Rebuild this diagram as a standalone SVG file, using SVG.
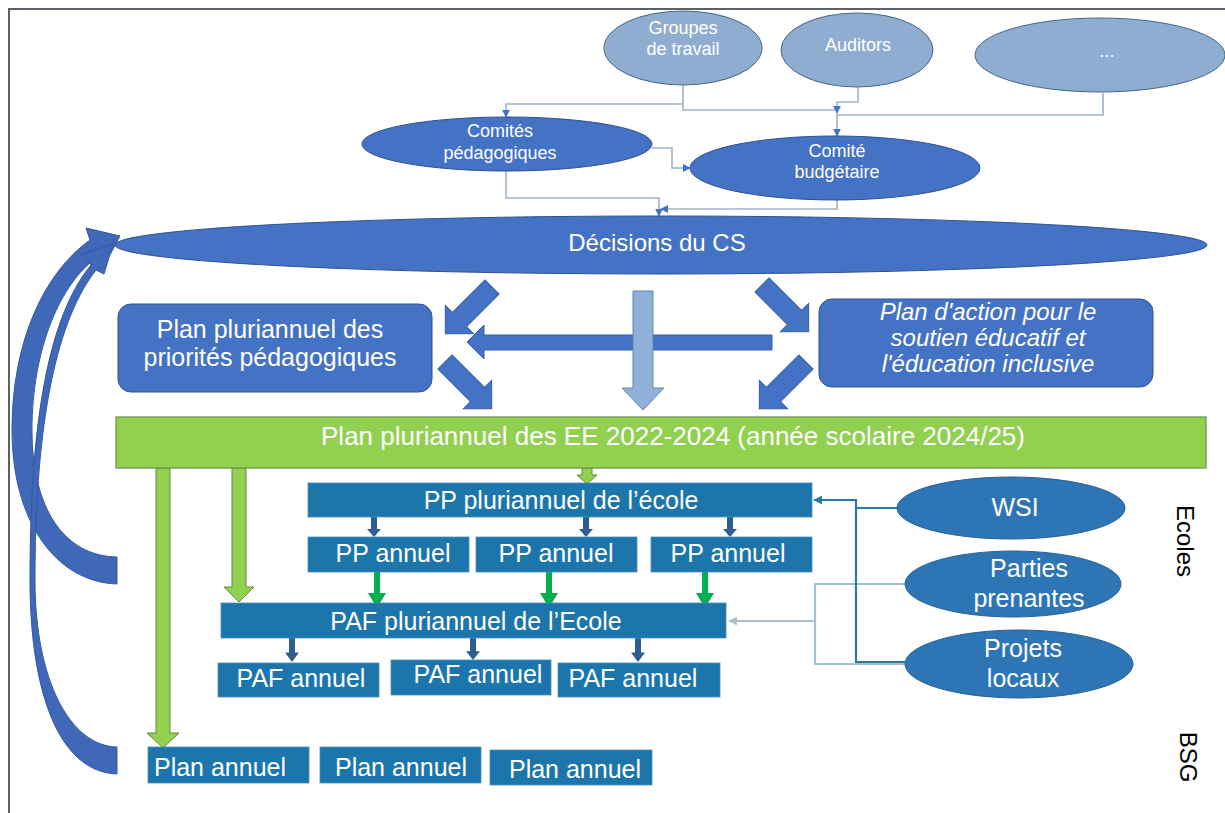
<svg xmlns="http://www.w3.org/2000/svg" width="1225" height="813" viewBox="0 0 1225 813">
<defs>
<style>
text{font-family:"Liberation Sans",Arial,sans-serif;fill:#fff;text-anchor:middle}
.t18{font-size:18px}
.t25{font-size:25px}
.lt{fill:#8fadd0;stroke:#44658f;stroke-width:1}
.dk{fill:#4472c4;stroke:#2f528f;stroke-width:1}
.teal{fill:#1c76ab;stroke:#4a90bd;stroke-width:0.8}
.rb{fill:#2e75b6;stroke:#2a5f94;stroke-width:1}
.ln{fill:none;stroke:#9fb3cb;stroke-width:1.6}
.lnt{fill:none;stroke:#2b7b9e;stroke-width:2.2}
.lng{fill:none;stroke:#a9bfd0;stroke-width:2.2}
.blk{fill:#4472c4;stroke:#3760a8;stroke-width:1}
.arc{fill:#4068b8;stroke:#34599f;stroke-width:1}
.grn{fill:#92d050;stroke:#65883a;stroke-width:1}
.sm{fill:#2d5d91}
.ga{fill:#00b050}
.lbl{fill:#000;font-size:24px}
</style>
<marker id="ah" viewBox="0 0 10 10" refX="9" refY="5" markerWidth="5" markerHeight="5" orient="auto"><path d="M0,0 L10,5 L0,10 Z" fill="#4472c4"/></marker>
<marker id="aht" viewBox="0 0 10 10" refX="9" refY="5" markerWidth="4" markerHeight="4" orient="auto"><path d="M0,0 L10,5 L0,10 Z" fill="#2b7b9e"/></marker>
<marker id="ahg" viewBox="0 0 10 10" refX="9" refY="5" markerWidth="4" markerHeight="4" orient="auto"><path d="M0,0 L10,5 L0,10 Z" fill="#a9bfd0"/></marker>
<path id="blkA" d="M0,-10 H46 V-20 L66,0 L46,20 V10 H0 Z"/>
<path id="sa" d="M-3,0 H3 V12 H7 L0,20 L-7,12 H-3 Z"/>
<path id="gaA" d="M-3,0 H3 V21 H9 L0,36 L-9,21 H-3 Z"/>
</defs>
<rect width="1225" height="813" fill="#fff"/>
<path d="M9,813 V9 H1225" fill="none" stroke="#5a6068" stroke-width="2"/>

<g id="connectors">
  <path class="ln" d="M683,85 V110 H837"/>
  <path class="ln" d="M683,104 H506 V117" marker-end="url(#ah)"/>
  <path class="ln" d="M858,87 V102 H837"/>
  <path class="ln" d="M1103,93 V115 H837"/>
  <path class="ln" d="M837,102 V113" marker-end="url(#ah)"/>
  <path class="ln" d="M837,113 V136" marker-end="url(#ah)"/>
  <path class="ln" d="M652,148 H672 V168 H690" marker-end="url(#ah)"/>
  <path class="ln" d="M506,170 V198 H659 V216" marker-end="url(#ah)"/>
  <path class="ln" d="M837,199 V209 H661" marker-end="url(#ah)"/>

  <path class="arc" d="M117,584 C55,582 12,520 12,430 C12,340 45,272 90,240 L86,228 L120,236 L104,266 L99,256 C60,282 32,350 32,430 C32,510 65,556 117,557 Z"/>
  <path class="arc" d="M117,774 C58,772 30,690 30,580 C30,440 44,322 91,265 L82,254 L113,244 L104,274 L96,270 C52,326 35,440 35,580 C35,680 70,746 117,747 Z"/>

  <use href="#blkA" class="blk" transform="translate(492,287) rotate(135)"/>
  <use href="#blkA" class="blk" transform="translate(445,362) rotate(45)"/>
  <use href="#blkA" class="blk" transform="translate(762,285) rotate(45)"/>
  <use href="#blkA" class="blk" transform="translate(806,362) rotate(135)"/>
  <path class="blk" d="M772,335 V350 H484 V359 L467,342 L484,325 V335 Z"/>
  <path fill="#8fb0d8" stroke="#5f86b5" stroke-width="1" d="M633,291 H653 V388 H664 L643,410 L622,388 H633 Z"/>

  <path class="grn" d="M156,468 H170 V733 H179 L163,748 L147,733 H156 Z"/>
  <path class="grn" d="M232,468 H246 V587 H254 L239,602 L224,587 H232 Z"/>
  <path class="grn" d="M582,468 H592 V475 H597 L587,484 L577,475 H582 Z"/>

  <use href="#sa" class="sm" transform="translate(374,517)"/>
  <use href="#sa" class="sm" transform="translate(586,517)"/>
  <use href="#sa" class="sm" transform="translate(730,517)"/>
  <use href="#gaA" class="ga" transform="translate(377,572)"/>
  <use href="#gaA" class="ga" transform="translate(549,572)"/>
  <use href="#gaA" class="ga" transform="translate(705,572)"/>
  <use href="#sa" class="sm" transform="translate(292,638) scale(1,1.2)"/>
  <use href="#sa" class="sm" transform="translate(473,638) scale(1,1.1)"/>
  <use href="#sa" class="sm" transform="translate(638,638) scale(1,1.2)"/>

  <path class="lng" d="M906,584 H815 V664 H906"/>
  <path class="lng" d="M815,621 H729" marker-end="url(#ahg)"/>
  <path class="lnt" d="M897,508 H856"/>
  <path class="lnt" d="M906,662 H856 V500 H814" marker-end="url(#aht)"/>
</g>

<g id="groupes"><ellipse class="lt" cx="683" cy="48" rx="79" ry="37"/><text class="t18" x="683" y="34">Groupes</text><text class="t18" x="683" y="55">de travail</text></g>
<g id="auditors"><ellipse class="lt" cx="857" cy="50" rx="76" ry="37"/><text class="t18" x="858" y="51">Auditors</text></g>
<g id="etc"><ellipse class="lt" cx="1100" cy="55" rx="125" ry="37"/><text class="t18" x="1107" y="57">...</text></g>
<g id="comites-ped"><ellipse class="dk" cx="507" cy="144" rx="145" ry="27"/><text class="t18" x="500" y="137">Comités</text><text class="t18" x="500" y="159">pédagogiques</text></g>
<g id="comite-budg"><ellipse class="dk" cx="835" cy="168" rx="145" ry="32"/><text class="t18" x="837" y="157">Comité</text><text class="t18" x="837" y="178">budgétaire</text></g>
<g id="decisions"><ellipse class="dk" cx="661" cy="245" rx="546" ry="29"/><text x="657" y="251" font-size="24">Décisions du CS</text></g>

<g id="plan-prio"><rect class="dk" x="118" y="304" width="314" height="88" rx="13"/><text class="t25" x="270" y="338">Plan pluriannuel des</text><text class="t25" x="270" y="366">priorités pédagogiques</text></g>
<g id="plan-action"><rect class="dk" x="819" y="299" width="334" height="88" rx="13"/><text x="988" y="320" font-size="24" font-style="italic">Plan d'action pour le</text><text x="988" y="346" font-size="24" font-style="italic">soutien éducatif et</text><text x="988" y="372" font-size="24" font-style="italic">l'éducation inclusive</text></g>

<g id="plan-ee"><rect x="116" y="417" width="1090" height="51" fill="#92d050" stroke="#6a8f45" stroke-width="1.2"/><text x="673" y="445" font-size="26">Plan pluriannuel des EE 2022-2024 (année scolaire 2024/25)</text></g>

<g id="pp-pluri"><rect class="teal" x="308" y="483" width="504" height="34"/><text class="t25" x="561" y="509">PP pluriannuel de l’école</text></g>
<g id="pp-an-1"><rect class="teal" x="308" y="537" width="161" height="35"/><text class="t25" x="393" y="562">PP annuel</text></g>
<g id="pp-an-2"><rect class="teal" x="476" y="537" width="161" height="35"/><text class="t25" x="556" y="562">PP annuel</text></g>
<g id="pp-an-3"><rect class="teal" x="651" y="537" width="161" height="35"/><text class="t25" x="728" y="562">PP annuel</text></g>
<g id="paf-pluri"><rect class="teal" x="221" y="603" width="505" height="35"/><text class="t25" x="476" y="630">PAF pluriannuel de l’Ecole</text></g>
<g id="paf-an-1"><rect class="teal" x="218" y="663" width="161" height="34"/><text class="t25" x="301" y="687">PAF annuel</text></g>
<g id="paf-an-2"><rect class="teal" x="391" y="660" width="160" height="35"/><text class="t25" x="478" y="683">PAF annuel</text></g>
<g id="paf-an-3"><rect class="teal" x="558" y="663" width="162" height="34"/><text class="t25" x="633" y="687">PAF annuel</text></g>
<g id="plan-an-1"><rect class="teal" x="148" y="747" width="161" height="36"/><text class="t25" x="220" y="776">Plan annuel</text></g>
<g id="plan-an-2"><rect class="teal" x="320" y="747" width="161" height="36"/><text class="t25" x="401" y="776">Plan annuel</text></g>
<g id="plan-an-3"><rect class="teal" x="490" y="750" width="162" height="35"/><text class="t25" x="575" y="778">Plan annuel</text></g>

<g id="wsi"><ellipse class="rb" cx="1011" cy="508" rx="114" ry="31"/><text class="t25" x="1015" y="516">WSI</text></g>
<g id="parties"><ellipse class="rb" cx="1013" cy="584" rx="108" ry="33"/><text class="t25" x="1029" y="577">Parties</text><text class="t25" x="1029" y="607">prenantes</text></g>
<g id="projets"><ellipse class="rb" cx="1019" cy="664" rx="114" ry="34"/><text class="t25" x="1023" y="657">Projets</text><text class="t25" x="1023" y="687">locaux</text></g>

<g id="labels">
<text class="lbl" transform="translate(1177,541) rotate(90)">Ecoles</text>
<text class="lbl" transform="translate(1180,757) rotate(90)">BSG</text>
</g>
</svg>
